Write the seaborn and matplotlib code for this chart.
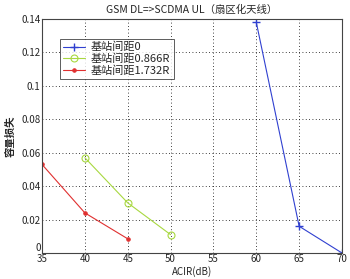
import matplotlib
matplotlib.use("Agg")
import matplotlib.pyplot as plt
import seaborn as sns
import pandas as pd

acir_0 = [60, 65, 70]
loss_0 = [0.138, 0.016, 0.0]
acir_866 = [40, 45, 50]
loss_866 = [0.057, 0.030, 0.011]
acir_1732 = [35, 40, 45]
loss_1732 = [0.053, 0.024, 0.0085]
labels = ["基站间距0", "基站间距0.866R", "基站间距1.732R"]

sns.set_style("white")
plt.rcParams['font.family'] = ['Noto Sans CJK SC', 'DejaVu Sans']

fig = plt.figure(figsize=(3.5, 2.79), dpi=100)
ax = fig.add_axes([42/350, 1-253/279, 300/350, 234/279])

df0 = pd.DataFrame({"x": acir_0, "y": loss_0})
df1 = pd.DataFrame({"x": acir_866, "y": loss_866})
df2 = pd.DataFrame({"x": acir_1732, "y": loss_1732})

blue, green, red = "#3040d0", "#a8d840", "#e03030"
sns.lineplot(data=df0, x="x", y="y", ax=ax, color=blue, marker="+", markersize=6,
             markeredgecolor=blue, markeredgewidth=1, linewidth=0.8, label=labels[0])
sns.lineplot(data=df1, x="x", y="y", ax=ax, color=green, marker="o", markersize=5,
             markerfacecolor="none", markeredgecolor=green, markeredgewidth=0.8,
             linewidth=0.8, label=labels[1])
sns.lineplot(data=df2, x="x", y="y", ax=ax, color=red, marker=".", markersize=5,
             markeredgecolor=red, markerfacecolor=red, linewidth=0.8, label=labels[2])

ax.set_xlim(35, 70)
ax.set_ylim(0, 0.14)
ax.set_xticks([35, 40, 45, 50, 55, 60, 65, 70])
ax.set_yticks([0, 0.02, 0.04, 0.06, 0.08, 0.1, 0.12, 0.14])
ax.set_yticklabels(["0", "0.02", "0.04", "0.06", "0.08", "0.1", "0.12", "0.14"])
ax.tick_params(labelsize=7, length=2, pad=1, direction="in")
ax.grid(True, color="black", linestyle=(0, (1, 3)), linewidth=0.6)
for s in ax.spines.values():
    s.set_color("#444444")
    s.set_linewidth(0.8)
for t in ax.get_yticklabels():
    if t.get_text() == "0":
        t.set_va("bottom")

ax.set_xlabel("ACIR(dB)", fontsize=7, labelpad=1)
ax.set_ylabel("容量损失", fontsize=7.5, labelpad=4, fontweight="bold")
ax.set_title("GSM DL=>SCDMA UL（扇区化天线）", fontsize=7.5, pad=4)

leg = ax.legend(loc="upper left", bbox_to_anchor=(0.04, 0.94), fontsize=8, frameon=True,
                fancybox=False, edgecolor="#333333", handlelength=2.0, borderpad=0.3,
                labelspacing=0.1, handletextpad=0.5)
leg.get_frame().set_linewidth(0.7)

fig.savefig("out.png", dpi=100, facecolor="white")
